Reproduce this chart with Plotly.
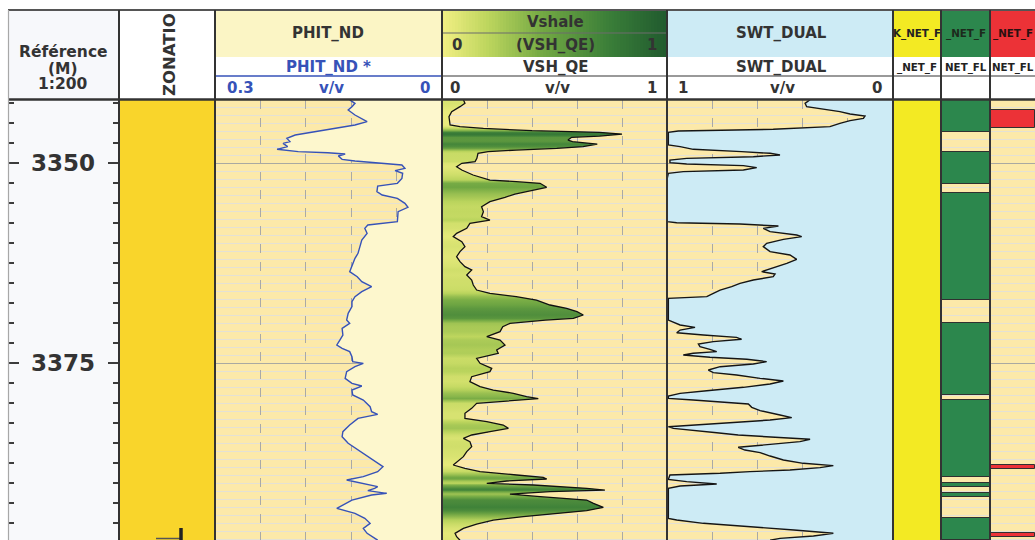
import numpy as np
import plotly.graph_objects as go

W, H = 1035, 540

# ---------------- data ----------------
DEPTH_TOP = 3342.125
DEPTH_BOTTOM = 3397.125
DEPTH_LABELS = [3350, 3375]

PHIT_DEPTH = [3342.10, 3342.54, 3342.96, 3343.38, 3344.00, 3344.63, 3344.83, 3345.25, 3345.88, 3346.17,
              3346.50, 3346.92, 3347.33, 3347.54, 3347.96, 3348.29, 3348.58, 3348.71, 3348.88, 3349.13,
              3349.54, 3349.75, 3349.96, 3350.25, 3350.67, 3350.96, 3351.29, 3351.92, 3352.54, 3352.88,
              3353.58, 3354.00, 3354.42, 3355.04, 3355.54, 3356.08, 3357.33, 3357.75, 3358.17, 3358.79,
              3359.63, 3360.46, 3361.29, 3361.92, 3362.96, 3363.58, 3364.21, 3364.83, 3365.46, 3366.08,
              3366.71, 3367.33, 3367.96, 3368.79, 3369.63,
              3370.04, 3370.67, 3371.50, 3372.13, 3372.75, 3373.17, 3373.58, 3374.21, 3374.83, 3375.04,
              3375.46, 3376.08, 3376.92, 3377.54, 3377.88, 3378.38, 3379.00, 3379.63, 3380.46, 3381.08,
              3381.42, 3381.92, 3382.75, 3383.58, 3384.21, 3385.04, 3385.88, 3386.71, 3387.54, 3387.96,
              3388.58, 3389.21, 3389.63, 3390.04, 3390.46, 3390.67, 3390.96, 3391.29, 3391.50, 3392.13,
              3392.75, 3393.17, 3393.79, 3394.42, 3395.04, 3395.67, 3396.29, 3397.15]
PHIT = [0.122, 0.115, 0.119, 0.124, 0.115, 0.104, 0.099, 0.115, 0.155, 0.177,
        0.194, 0.205, 0.201, 0.210, 0.204, 0.218, 0.190, 0.151, 0.128, 0.137,
        0.132, 0.115, 0.089, 0.053, 0.049, 0.062, 0.052, 0.053, 0.059, 0.085,
        0.086, 0.079, 0.059, 0.049, 0.045, 0.058, 0.059, 0.098, 0.102, 0.099,
        0.106, 0.108, 0.111, 0.115, 0.119, 0.122, 0.112, 0.106, 0.093, 0.106,
        0.115, 0.119, 0.119, 0.124, 0.126,
        0.122, 0.132, 0.131, 0.135, 0.139, 0.132, 0.122, 0.119, 0.118, 0.104,
        0.115, 0.126, 0.128, 0.119, 0.106, 0.119, 0.118, 0.104, 0.095, 0.093,
        0.085, 0.111, 0.122, 0.131, 0.132, 0.124, 0.111, 0.098, 0.085, 0.078,
        0.085, 0.104, 0.126, 0.106, 0.085, 0.089, 0.098, 0.073, 0.093, 0.119,
        0.132, 0.139, 0.115, 0.102, 0.095, 0.104, 0.099, 0.085]

VSH_DEPTH = [3342.10, 3342.54, 3342.96, 3343.58, 3344.21, 3345.25, 3345.46, 3345.67, 3345.96, 3346.17,
             3346.38, 3346.63, 3346.79, 3347.13, 3347.33, 3347.63, 3347.96, 3348.17, 3348.38, 3348.58,
             3348.79, 3349.42, 3349.83, 3350.04, 3350.46, 3350.88, 3351.50, 3352.13, 3352.33, 3352.54,
             3353.04, 3353.46, 3353.88, 3354.29, 3354.83, 3355.46, 3356.08, 3356.71, 3357.13, 3357.54,
             3358.17, 3358.79, 3359.21, 3359.83, 3360.46, 3361.08, 3361.71, 3362.33, 3362.96, 3363.38,
             3364.00, 3364.63, 3365.25, 3365.88, 3366.29, 3366.71, 3367.13, 3367.75, 3368.17, 3368.58,
             3369.00, 3369.42, 3369.63,
             3370.04, 3370.46, 3371.08, 3371.71, 3372.13, 3372.75, 3373.38, 3373.79, 3374.42, 3375.04,
             3375.67, 3376.08, 3376.71, 3377.33, 3377.96, 3378.38, 3378.79, 3379.21, 3379.46, 3379.71,
             3380.04, 3380.67, 3381.29, 3381.92, 3382.33, 3382.75, 3383.17, 3383.58, 3384.00, 3384.42,
             3384.83, 3385.46, 3386.08, 3386.71, 3387.33, 3387.75, 3388.17, 3388.58, 3389.00, 3389.29,
             3389.50, 3389.75, 3390.04, 3390.25, 3390.67, 3390.88, 3391.08, 3391.38, 3391.71, 3392.13,
             3392.54, 3393.04, 3393.46, 3393.79, 3394.21, 3394.63, 3395.13, 3395.67, 3396.29, 3396.71,
             3397.15]
VSH = [0.095, 0.102, 0.080, 0.043, 0.031, 0.036, 0.080, 0.184, 0.400, 0.700,
       0.800, 0.700, 0.576, 0.560, 0.580, 0.690, 0.627, 0.510, 0.330, 0.205,
       0.160, 0.155, 0.147, 0.088, 0.065, 0.088, 0.138, 0.213, 0.330, 0.436,
       0.465, 0.390, 0.324, 0.280, 0.213, 0.176, 0.184, 0.176, 0.213, 0.124,
       0.110, 0.065, 0.050, 0.088, 0.102, 0.080, 0.065, 0.080, 0.102, 0.132,
       0.110, 0.132, 0.139, 0.154, 0.213, 0.330, 0.420, 0.480, 0.554, 0.600,
       0.628, 0.584, 0.460,
       0.302, 0.270, 0.258, 0.199, 0.258, 0.280, 0.243, 0.250, 0.154, 0.169,
       0.221, 0.213, 0.132, 0.124, 0.169, 0.228, 0.317, 0.376, 0.428, 0.302,
       0.154, 0.132, 0.102, 0.102, 0.199, 0.272, 0.295, 0.213, 0.132, 0.095,
       0.124, 0.132, 0.110, 0.095, 0.065, 0.050, 0.102, 0.169, 0.332, 0.450,
       0.465, 0.288, 0.199, 0.406, 0.643, 0.724, 0.480, 0.302, 0.436, 0.643,
       0.673, 0.717, 0.643, 0.510, 0.361, 0.228, 0.154, 0.095, 0.058, 0.065,
       0.080]

SWT_DEPTH = [3342.10, 3342.54, 3342.96, 3343.29, 3343.58, 3343.88, 3344.13, 3344.42, 3344.71, 3345.04,
             3345.46, 3345.79, 3346.00, 3346.17, 3347.75, 3347.96, 3348.29, 3348.58, 3348.79, 3349.00,
             3349.21, 3349.42, 3349.63, 3349.96, 3350.13, 3350.33, 3350.58, 3350.88, 3351.08, 3351.29,
             3351.92, 3357.33, 3357.46, 3357.63, 3357.88, 3358.17, 3358.58, 3359.00, 3359.21, 3359.54,
             3360.04, 3360.46, 3361.08, 3361.50, 3362.04, 3362.54, 3363.17, 3363.58, 3363.88, 3364.21,
             3364.63, 3365.04, 3365.46, 3365.88, 3366.29, 3366.71, 3366.92,
             3369.63, 3370.25, 3370.54, 3370.88, 3371.21, 3371.50, 3371.79, 3372.04, 3372.33, 3372.63,
             3372.96, 3373.29, 3373.58, 3373.79, 3374.00, 3374.29, 3374.54, 3374.83, 3375.13, 3375.46,
             3375.88, 3376.21, 3376.50, 3376.92, 3377.25, 3377.63, 3378.04, 3378.46, 3378.79, 3379.13,
             3379.42, 3379.63, 3379.83, 3380.13, 3380.54, 3380.96, 3381.50, 3381.83, 3382.13, 3382.46,
             3382.75, 3382.96, 3383.17, 3383.46, 3383.71, 3384.00, 3384.29, 3384.54, 3384.83, 3385.25,
             3385.54, 3385.88, 3386.21, 3386.63, 3387.13, 3387.54, 3387.83, 3388.08, 3388.38, 3388.58,
             3388.79, 3389.00, 3389.54, 3389.83, 3390.13, 3390.38, 3390.67, 3394.42, 3394.63, 3395.04,
             3395.46, 3395.88, 3396.29, 3396.63, 3396.92, 3397.15]
SWT = [0.367, 0.389, 0.382, 0.293, 0.235, 0.190, 0.124, 0.131, 0.190, 0.235,
       0.279, 0.530, 0.950, 0.994, 0.994, 0.942, 0.884, 0.670, 0.544, 0.500,
       0.618, 0.913, 0.987, 0.987, 0.913, 0.662, 0.603, 0.662, 0.928, 0.994,
       0.999, 0.999, 0.957, 0.677, 0.507, 0.574, 0.544, 0.426, 0.404, 0.485,
       0.559, 0.574, 0.544, 0.456, 0.426, 0.470, 0.544, 0.581, 0.522, 0.530,
       0.618, 0.677, 0.714, 0.765, 0.795, 0.824, 0.994,
       0.994, 0.942, 0.876, 0.942, 0.957, 0.839, 0.692, 0.670, 0.795, 0.861,
       0.854, 0.810, 0.780, 0.884, 0.928, 0.810, 0.647, 0.559, 0.618, 0.765,
       0.817, 0.795, 0.692, 0.588, 0.485, 0.544, 0.662, 0.824, 0.942, 0.994,
       0.994, 0.884, 0.765, 0.640, 0.625, 0.588, 0.500, 0.448, 0.544, 0.736,
       0.884, 0.994, 0.972, 0.884, 0.780, 0.685, 0.530, 0.367, 0.412, 0.559,
       0.685, 0.655, 0.588, 0.544, 0.485, 0.397, 0.264, 0.323, 0.456, 0.633,
       0.765, 0.987, 0.994, 0.913, 0.780, 0.942, 0.994, 0.994, 0.957, 0.839,
       0.618, 0.438, 0.264, 0.352, 0.500, 0.544]

ZONE_TOP = [3342.125]
ZONE_BOTTOM = [3397.125]

RES_TOP = [3342.125]            # first flag track (all flagged)
RES_BOTTOM = [3397.125]

NET_TOP = [3342.125, 3348.58, 3353.79, 3369.96, 3379.63, 3389.96, 3391.21, 3394.42]
NET_BOTTOM = [3346.08, 3352.63, 3367.13, 3378.99, 3389.21, 3390.54, 3391.79, 3397.125]

PAY_TOP = [3343.38, 3387.80, 3396.30]
PAY_BOTTOM = [3345.67, 3388.20, 3396.80]

PHIT_SCALE = [0.3, 0.0]
VSH_SCALE = [0.0, 1.0]
SWT_SCALE = [1.0, 0.0]

# ---------------- styling ----------------
TAN = "#fce9a9"
CREAM = "#fdf7cd"
LBLUE = "#cdebf5"
GOLD = "#f9d52b"
FYEL = "#f3ea23"
FGREEN = "#2c874d"
FRED = "#ec3237"
BLUE = "#3652b8"
FONT = "DejaVu Sans"
VSH_CS = [[0.0, (242, 239, 132)], [0.2, (190, 214, 94)], [0.45, (114, 168, 67)],
          [0.75, (57, 125, 56)], [1.0, (32, 90, 46)]]


def vsh_rgb(v):
    v = min(max(v, 0.0), 1.0)
    for (p0, c0), (p1, c1) in zip(VSH_CS[:-1], VSH_CS[1:]):
        if v <= p1:
            t = (v - p0) / (p1 - p0)
            c = [round(a + (b - a) * t) for a, b in zip(c0, c1)]
            return "rgb(%d,%d,%d)" % tuple(c)
    return "rgb(%d,%d,%d)" % VSH_CS[-1][1]


PLOTLY_CS = [[p, "rgb(%d,%d,%d)" % c] for p, c in VSH_CS]


def X(p):
    return p / W


def Y(p):
    return 1 - p / H


TRK = {"depth": (8, 119), "zone": (119, 215), "phit": (215, 442), "vsh": (442, 667),
       "swt": (667, 893), "f1": (893, 941), "f2": (941, 990), "f3": (990, 1035)}
YDOM = [0, Y(100)]

fig = go.Figure()

# depth track dummies
fig.add_trace(go.Scatter(x=[0.5], y=[DEPTH_TOP + 1], mode="markers", marker=dict(opacity=0),
                         hoverinfo="skip", xaxis="x", yaxis="y2"))
fig.add_trace(go.Scatter(x=[0.5], y=[DEPTH_TOP + 1], mode="markers", marker=dict(opacity=0),
                         hoverinfo="skip", xaxis="x", yaxis="y3"))


def interval_bars(tops, bots, color, xa, lw=0):
    mids = [(a + b) / 2 for a, b in zip(tops, bots)]
    wid = [b - a for a, b in zip(tops, bots)]
    return go.Bar(orientation="h", y=mids, x=[1] * len(mids), base=0, width=wid,
                  marker=dict(color=color, line=dict(color="#303030", width=lw)),
                  hoverinfo="skip", xaxis=xa, yaxis="y")


fig.add_trace(interval_bars(ZONE_TOP, ZONE_BOTTOM, GOLD, "x2"))

# PHIT
fig.add_trace(go.Scatter(x=PHIT, y=PHIT_DEPTH, mode="lines", line=dict(color=BLUE, width=1.4),
                         fill="tozerox", fillcolor=CREAM, xaxis="x3", yaxis="y", hoverinfo="skip"))

# VSH with depth-varying fill
d0, d1 = min(VSH_DEPTH), max(VSH_DEPTH)
stops = [[(d - d0) / (d1 - d0), vsh_rgb(v)] for d, v in zip(VSH_DEPTH, VSH)]
fig.add_trace(go.Scatter(x=VSH, y=VSH_DEPTH, mode="lines", line=dict(color="#111111", width=1.3),
                         fill="tozerox",
                         fillgradient=dict(type="vertical", colorscale=stops, start=d0, stop=d1),
                         xaxis="x4", yaxis="y", hoverinfo="skip"))

# SWT
fig.add_trace(go.Scatter(x=SWT, y=SWT_DEPTH, mode="lines", line=dict(color="#151515", width=1.4),
                         fill="tozerox", fillcolor=LBLUE, xaxis="x5", yaxis="y", hoverinfo="skip"))

# Flags
fig.add_trace(interval_bars(RES_TOP, RES_BOTTOM, FYEL, "x6"))
fig.add_trace(interval_bars(NET_TOP, NET_BOTTOM, FGREEN, "x7", lw=1))
fig.add_trace(interval_bars(PAY_TOP, PAY_BOTTOM, FRED, "x8", lw=1))

# header gradient for Vshale
ramp = list(np.linspace(VSH_SCALE[0], VSH_SCALE[1], 80))
fig.add_trace(go.Heatmap(z=[ramp, ramp], x=ramp, y=[0, 1], colorscale=PLOTLY_CS, zmin=0, zmax=1,
                         showscale=False, hoverinfo="skip", xaxis="x9", yaxis="y4"))

# ---------------- axes ----------------
blank = dict(showgrid=False, zeroline=False, showticklabels=False, ticks="", showline=False,
             fixedrange=True)
lay = dict(width=W, height=H, margin=dict(l=0, r=0, t=0, b=0), paper_bgcolor="white",
           plot_bgcolor=TAN, showlegend=False, barmode="overlay", bargap=0)

lay["xaxis"] = dict(blank, domain=[X(TRK["depth"][0]), X(TRK["depth"][1])], range=[0, 1], anchor="y2")
lay["xaxis2"] = dict(blank, domain=[X(TRK["zone"][0]), X(TRK["zone"][1])], range=[0, 1], anchor="y")
grid_x = dict(showgrid=True, gridcolor="#a9a9a6", gridwidth=1.4, griddash="dash")
lay["xaxis3"] = dict(blank, **grid_x, domain=[X(TRK["phit"][0]), X(TRK["phit"][1])],
                     range=PHIT_SCALE, dtick=0.06, tick0=0, anchor="y")
lay["xaxis4"] = dict(blank, **grid_x, domain=[X(TRK["vsh"][0]), X(TRK["vsh"][1])],
                     range=VSH_SCALE, dtick=0.2, tick0=0, anchor="y")
lay["xaxis5"] = dict(blank, **grid_x, domain=[X(TRK["swt"][0]), X(TRK["swt"][1])],
                     range=SWT_SCALE, dtick=0.2, tick0=0, anchor="y")
lay["xaxis6"] = dict(blank, domain=[X(TRK["f1"][0]), X(TRK["f1"][1])], range=[0, 1], anchor="y")
lay["xaxis7"] = dict(blank, domain=[X(TRK["f2"][0]), X(TRK["f2"][1])], range=[0, 1], anchor="y")
lay["xaxis8"] = dict(blank, domain=[X(TRK["f3"][0]), 1], range=[0, 1], anchor="y")
lay["xaxis9"] = dict(blank, domain=[X(TRK["vsh"][0]), X(TRK["vsh"][1])], range=[0, 1], anchor="y4")

lay["yaxis"] = dict(domain=YDOM, range=[DEPTH_BOTTOM, DEPTH_TOP], anchor="x3", showgrid=True,
                    tick0=3350, dtick=25, gridcolor="#a9a9a2", gridwidth=1,
                    minor=dict(dtick=1, tick0=3350, showgrid=True, gridcolor="#e4e1d4", gridwidth=1),
                    zeroline=False, showticklabels=False, ticks="", showline=False, fixedrange=True)
depth_ticks = dict(domain=YDOM, range=[DEPTH_BOTTOM, DEPTH_TOP], showgrid=False, zeroline=False,
                   showticklabels=False, showline=False, ticks="inside", tick0=DEPTH_LABELS[0],
                   dtick=DEPTH_LABELS[1] - DEPTH_LABELS[0], ticklen=11, tickwidth=2,
                   tickcolor="#3c3c3c", fixedrange=True,
                   minor=dict(ticks="inside", dtick=2.5, tick0=DEPTH_LABELS[0], ticklen=6,
                              tickwidth=2, tickcolor="#3c3c3c"))
lay["yaxis2"] = dict(depth_ticks, anchor="x", side="left")
lay["yaxis3"] = dict(depth_ticks, anchor="x", side="right", overlaying="y2")
lay["yaxis4"] = dict(blank, domain=[Y(57), Y(10)], range=[-0.5, 1.5], anchor="x9")

# ---------------- shapes ----------------
shapes = []


def rect(x0, y0, x1, y1, fill, layer="above"):
    shapes.append(dict(type="rect", xref="paper", yref="paper", x0=X(x0), x1=X(x1),
                       y0=Y(y0), y1=Y(y1), fillcolor=fill, line=dict(width=0), layer=layer))


def seg(x0, y0, x1, y1, color, width, layer="above"):
    shapes.append(dict(type="line", xref="paper", yref="paper", x0=X(x0), x1=X(x1),
                       y0=Y(y0), y1=Y(y1), line=dict(color=color, width=width), layer=layer))


rect(8, 100, 119, 540, "#f8f9fb", layer="below")
rect(8, 10, 119, 100, "#f7f8fb")
rect(215, 10, 442, 57, "#fbf5c5")
rect(667, 10, 893, 57, LBLUE)
rect(893, 10, 941, 57, FYEL)
rect(941, 10, 990, 57, FGREEN)
rect(990, 10, 1035, 57, FRED)

seg(442, 33, 667, 33, "#6d6d6d", 1.2)
seg(215, 76, 442, 76, BLUE, 1.6)
seg(442, 76, 667, 76, "#777777", 1.4)
seg(667, 76, 893, 76, "#777777", 1.4)
seg(893, 76, 1035, 76, "#777777", 1.4)

seg(8, 10, 1035, 10, "#555555", 2)
seg(8, 99.5, 1035, 99.5, "#333333", 2.5)
seg(8.5, 10, 8.5, 540, "#a8a8a8", 1.2)
for xs in [119, 215, 442, 667, 893, 941, 990]:
    seg(xs, 10, xs, 540, "#333333", 2)

# zone boundary marker at the bottom of the zonation track
seg(156, 538.5, 181, 538.5, "#555555", 1.5)
seg(181, 528, 181, 540, "#222222", 3.5)

lay["shapes"] = shapes

# ---------------- text ----------------
ann = []


def txt(x, y, s, size=15, color="#333333", bold=True, angle=0, yref="paper"):
    ann.append(dict(x=X(x), y=(Y(y) if yref == "paper" else y), xref="paper", yref=yref,
                    text=("<b>%s</b>" % s) if bold else s, showarrow=False,
                    font=dict(family=FONT, size=size, color=color),
                    xanchor="center", yanchor="middle", textangle=angle))


txt(63, 52.5, "Référence", 15.5)
txt(63, 68.5, "(M)", 15.5)
txt(63, 84.5, "1:200", 15.5)
txt(169, 55, "ZONATIO", 16.5, angle=-90)

txt(328, 33, "PHIT_ND", 15)
txt(328, 67, "PHIT_ND *", 15, color=BLUE)
txt(240, 88, "%g" % PHIT_SCALE[0], 15, color=BLUE)
txt(331, 88, "v/v", 15, color=BLUE)
txt(425, 88, "%g" % PHIT_SCALE[1], 15, color=BLUE)

txt(555, 22, "Vshale", 15)
txt(457, 45, "%g" % VSH_SCALE[0], 15)
txt(555, 45, "(VSH_QE)", 15)
txt(652, 45, "%g" % VSH_SCALE[1], 15)
txt(555, 67, "VSH_QE", 15)
txt(455, 88, "%g" % VSH_SCALE[0], 15)
txt(557, 88, "v/v", 15)
txt(652, 88, "%g" % VSH_SCALE[1], 15)

txt(781, 33, "SWT_DUAL", 15)
txt(781, 67, "SWT_DUAL", 15)
txt(683, 88, "%g" % SWT_SCALE[0], 15)
txt(782, 88, "v/v", 15)
txt(877, 88, "%g" % SWT_SCALE[1], 15)

txt(917, 33, "K_NET_F", 10.3, color="#222222")
txt(966, 33, "_NET_F", 10.3, color="#1c2a1c")
txt(1013, 33, "_NET_F", 10.3, color="#2a1010")
txt(917, 67, "_NET_F", 10.3, color="#222222")
txt(966, 67, "NET_FL", 10.3, color="#222222")
txt(1013, 67, "NET_FL", 10.3, color="#222222")

for d in DEPTH_LABELS:
    txt(63, d, str(d), 23, color="#333333", yref="y2")

lay["annotations"] = ann
fig.update_layout(**lay)
fig.write_html("out.html", config={"displayModeBar": False},
               post_script="document.body.style.margin='0px';document.body.style.overflow='hidden';")
